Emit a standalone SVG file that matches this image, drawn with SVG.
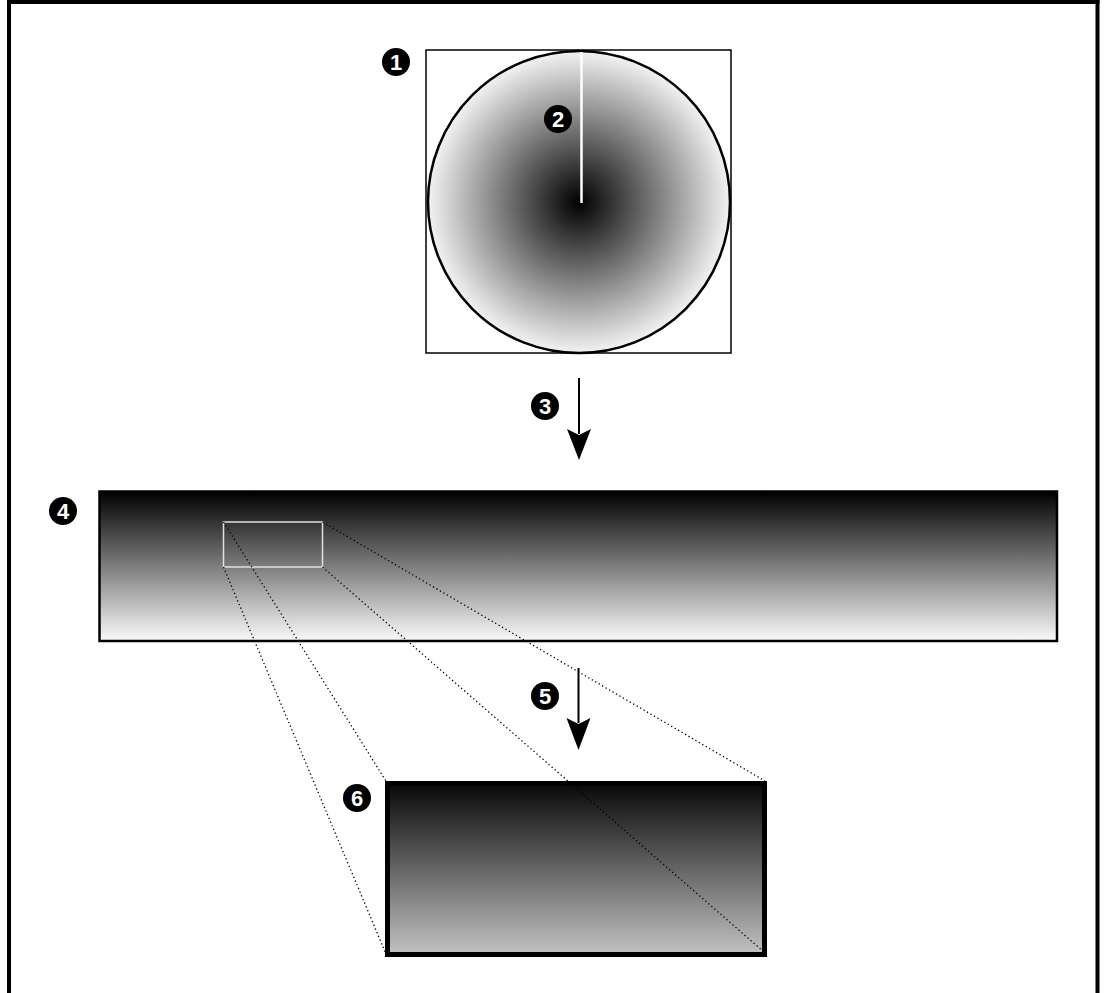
<svg xmlns="http://www.w3.org/2000/svg" width="1104" height="993" viewBox="0 0 1104 993">
<style>
.badge circle{fill:#000}
.badge text{fill:#fff;font-family:"Liberation Sans",Arial,sans-serif;font-weight:bold;font-size:22px;text-anchor:middle}
.dot{stroke:#000;stroke-width:1.3;stroke-dasharray:1.3 2.7;fill:none}
.arrow{stroke:#000;stroke-width:2;fill:none}
</style>
<defs>
<radialGradient id="rg" cx="579" cy="202" r="152" gradientUnits="userSpaceOnUse">
<stop offset="0" stop-color="#000"/>
<stop offset="1" stop-color="#f4f4f4"/>
</radialGradient>
<linearGradient id="lg1" x1="0" y1="0" x2="0" y2="1">
<stop offset="0" stop-color="#000"/>
<stop offset="1" stop-color="#fafafa"/>
</linearGradient>
<linearGradient id="lg2" x1="0" y1="0" x2="0" y2="1">
<stop offset="0" stop-color="#080808"/>
<stop offset="1" stop-color="#c2c2c2"/>
</linearGradient>
</defs>
<rect width="1104" height="993" fill="#fff"/>
<g id="frame" stroke="#000" stroke-width="4" fill="none">
<line x1="7" y1="2" x2="1099.5" y2="2"/>
<line x1="9" y1="0" x2="9" y2="993"/>
<line x1="1097.5" y1="0" x2="1097.5" y2="993"/>
</g>
<g id="node-fisheye">
<rect x="426" y="50" width="305" height="303" fill="#fff" stroke="#000" stroke-width="1.5"/>
<circle cx="579" cy="202" r="151" fill="url(#rg)" stroke="#000" stroke-width="2.5"/>
<line x1="581.5" y1="52" x2="581.5" y2="203" stroke="#fff" stroke-width="2.5"/>
</g>
<g id="node-panorama">
<rect x="99.5" y="491.5" width="957.5" height="149.5" fill="url(#lg1)" stroke="#000" stroke-width="2.5"/>
<rect x="223.5" y="522" width="99" height="45" fill="none" stroke="#e0e0e0" stroke-width="1.5"/>
</g>
<g id="node-detail">
<rect x="387.5" y="783.5" width="377" height="171" fill="url(#lg2)" stroke="#000" stroke-width="5"/>
</g>
<g id="connectors">
<line class="arrow" x1="579" y1="378" x2="579" y2="434"/>
<path d="M567,429 L579,435 L591,429 L579,460 Z" fill="#000"/>
<line class="arrow" x1="578.5" y1="668" x2="578.5" y2="723"/>
<path d="M566.5,718 L578.5,724 L590.5,718 L578.5,750 Z" fill="#000"/>
<line class="dot" x1="223.5" y1="522" x2="386" y2="781"/>
<line class="dot" x1="223.5" y1="567" x2="386" y2="954"/>
<line class="dot" x1="322.5" y1="522" x2="765" y2="781"/>
<line class="dot" x1="322.5" y1="567" x2="764" y2="952"/>
</g>
<g id="badge-1" class="badge"><circle cx="396" cy="62" r="14"/><text x="396" y="70">1</text></g>
<g id="badge-2" class="badge"><circle cx="558" cy="119" r="14"/><text x="558" y="127">2</text></g>
<g id="badge-3" class="badge"><circle cx="545" cy="406" r="14"/><text x="545" y="414">3</text></g>
<g id="badge-4" class="badge"><circle cx="63" cy="511" r="14"/><text x="63" y="519">4</text></g>
<g id="badge-5" class="badge"><circle cx="545" cy="696" r="14"/><text x="545" y="704">5</text></g>
<g id="badge-6" class="badge"><circle cx="357" cy="798" r="14"/><text x="357" y="806">6</text></g>
</svg>
